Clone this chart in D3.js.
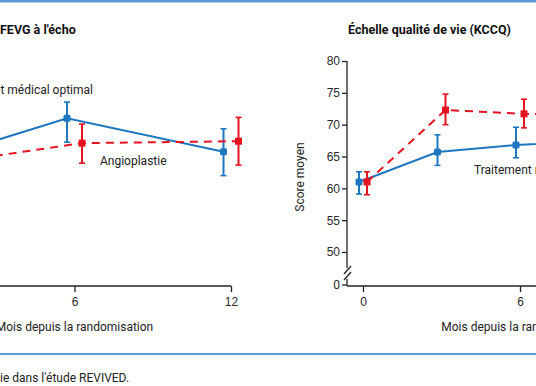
<!DOCTYPE html>
<html>
<head>
<meta charset="utf-8">
<script src="https://cdn.jsdelivr.net/npm/d3@7"></script>
<style>
  html, body { margin: 0; padding: 0; background: #fff; }
  svg { display: block; font-family: Roboto, "DejaVu Sans", sans-serif; }
  .tick text { fill: #2a2a2a; font-size: 12px; }
  .tick line, .axis-line { stroke: #222; stroke-width: 1.3; }
</style>
</head>
<body>
<svg id="chart" width="536" height="386"></svg>
<script>
// data
const fevgMonths = [0, 6, 12];
const fevgOmt = [28.9, 34.0, 30.5];
const fevgOmtLow = [27.0, 31.5, 28.0];
const fevgOmtHigh = [30.8, 35.7, 32.9];
const fevgPci = [29.0, 31.4, 31.6];
const fevgPciLow = [27.2, 29.3, 29.1];
const fevgPciHigh = [30.8, 33.4, 34.1];

const kccqMonths = [0, 3, 6, 12];
const kccqOmt = [61.0, 65.7, 66.8, 68.0];
const kccqOmtLow = [59.1, 63.6, 64.8, 65.8];
const kccqOmtHigh = [62.6, 68.4, 69.6, 70.2];
const kccqPci = [61.0, 72.3, 71.7, 71.5];
const kccqPciLow = [59.0, 70.0, 69.5, 69.2];
const kccqPciHigh = [62.6, 74.8, 74.0, 73.8];

const xTicks = [0, 6, 12];
const kccqTicks = [50, 55, 60, 65, 70, 75, 80];

const blue = "#1f77c0";
const red = "#e3131f";

const svg = d3.select("#chart");

// blue rules top and bottom
svg.append("rect").attr("x", 0).attr("y", 0).attr("width", 536).attr("height", 2.5).attr("fill", "#5e9bd6");
svg.append("rect").attr("x", 0).attr("y", 353).attr("width", 536).attr("height", 2).attr("fill", "#5e9bd6");

/** draws one panel
 * cfg: x scale, y scale, axis x position, offsets for the two series, data */
function panel(cfg) {
  const g = svg.append("g");
  const x = cfg.x, y = cfg.y;
  const xAxisY = 286;

  if (cfg.yTicks) {
    // y axis with break
    g.append("line").attr("class", "axis-line")
      .attr("x1", cfg.axisX).attr("x2", cfg.axisX).attr("y1", 61).attr("y2", 268);
    g.append("line").attr("class", "axis-line")
      .attr("x1", cfg.axisX).attr("x2", cfg.axisX).attr("y1", 279).attr("y2", xAxisY);
    [0, 6].forEach(d => {
      g.append("line").attr("class", "axis-line")
        .attr("x1", cfg.axisX - 3).attr("x2", cfg.axisX + 4)
        .attr("y1", 274 + d).attr("y2", 266 + d);
    });
    const yAxis = g.append("g")
      .attr("transform", "translate(" + cfg.axisX + ",0)")
      .call(d3.axisLeft(y).tickValues(cfg.yTicks).tickSize(5).tickPadding(2));
    yAxis.select(".domain").remove();
    // zero tick under the break
    g.append("line").attr("class", "axis-line")
      .attr("x1", cfg.axisX - 5).attr("x2", cfg.axisX).attr("y1", xAxisY - 1).attr("y2", xAxisY - 1);
    g.append("text").attr("x", cfg.axisX - 7).attr("y", xAxisY + 3)
      .attr("text-anchor", "end").attr("font-size", 12).attr("fill", "#2a2a2a").text("0");

    g.append("text")
      .attr("transform", "translate(" + (cfg.axisX - 43) + ",177) rotate(-90)")
      .attr("text-anchor", "middle").attr("font-size", 12).attr("fill", "#222")
      .text(cfg.yTitle);
  }

  // x axis
  g.append("line").attr("class", "axis-line")
    .attr("x1", Math.max(cfg.axisX, -5)).attr("x2", x(12)).attr("y1", xAxisY).attr("y2", xAxisY);
  const xAxis = g.append("g")
    .attr("transform", "translate(0," + xAxisY + ")")
    .call(d3.axisBottom(x).tickValues(xTicks).tickSize(6).tickPadding(5));
  xAxis.select(".domain").remove();

  g.append("text")
    .attr("x", (x(0) + x(12)) / 2).attr("y", 331)
    .attr("text-anchor", "middle").attr("font-size", 12).attr("fill", "#222")
    .text("Mois depuis la randomisation");

  g.append("text")
    .attr("x", cfg.titleX).attr("y", 34)
    .attr("font-size", 12.5).attr("font-weight", "bold").attr("fill", "#111")
    .text(cfg.title);

  const series = [
    { months: cfg.months, mean: cfg.omt, low: cfg.omtLow, high: cfg.omtHigh, color: blue, dx: -cfg.offset, dash: null, round: true },
    { months: cfg.months, mean: cfg.pci, low: cfg.pciLow, high: cfg.pciHigh, color: red, dx: cfg.offset, dash: "8,6", round: false }
  ];

  series.forEach(s => {
    const pts = s.months.map((m, i) => ({ x: x(m) + s.dx, y: y(s.mean[i]), lo: y(s.low[i]), hi: y(s.high[i]) }));
    const line = d3.line().x(d => d.x).y(d => d.y);
    g.append("path").attr("d", line(pts))
      .attr("fill", "none").attr("stroke", s.color).attr("stroke-width", 2)
      .attr("stroke-dasharray", s.dash);

    const eb = g.selectAll(null).data(pts).enter().append("g");
    eb.append("line").attr("x1", d => d.x).attr("x2", d => d.x)
      .attr("y1", d => d.lo).attr("y2", d => d.hi)
      .attr("stroke", s.color).attr("stroke-width", 2);
    eb.append("line").attr("x1", d => d.x - 3).attr("x2", d => d.x + 3)
      .attr("y1", d => d.lo).attr("y2", d => d.lo)
      .attr("stroke", s.color).attr("stroke-width", 1.6);
    eb.append("line").attr("x1", d => d.x - 3).attr("x2", d => d.x + 3)
      .attr("y1", d => d.hi).attr("y2", d => d.hi)
      .attr("stroke", s.color).attr("stroke-width", 1.6);
    eb.append("rect").attr("x", d => d.x - 3.5).attr("y", d => d.y - 3.5)
      .attr("width", 7).attr("height", 7).attr("rx", s.round ? 1.5 : 0).attr("fill", s.color);
  });
  return g;
}

// left panel: its y axis lies outside the cropped view
const xLeft = d3.scaleLinear().domain([0, 12]).range([-82, 231]);
const yLeft = d3.scaleLinear().domain([20, 40]).range([252, 61]);
const left = panel({
  x: xLeft, y: yLeft, axisX: -98, offset: 7.5,
  yTicks: null, title: "FEVG à l'écho", titleX: 0,
  months: fevgMonths,
  omt: fevgOmt, omtLow: fevgOmtLow, omtHigh: fevgOmtHigh,
  pci: fevgPci, pciLow: fevgPciLow, pciHigh: fevgPciHigh
});
left.append("text").attr("x", 93).attr("y", 94).attr("text-anchor", "end")
  .attr("font-size", 12).attr("fill", "#222").text("Traitement médical optimal");
left.append("text").attr("x", 100).attr("y", 165)
  .attr("font-size", 12).attr("fill", "#222").text("Angioplastie");

const xRight = d3.scaleLinear().domain([0, 12]).range([363, 677]);
const yRight = d3.scaleLinear().domain([50, 80]).range([252, 61]);
const right = panel({
  x: xRight, y: yRight, axisX: 347, offset: 4,
  yTicks: kccqTicks, yTitle: "Score moyen", title: "Échelle qualité de vie (KCCQ)", titleX: 348,
  months: kccqMonths,
  omt: kccqOmt, omtLow: kccqOmtLow, omtHigh: kccqOmtHigh,
  pci: kccqPci, pciLow: kccqPciLow, pciHigh: kccqPciHigh
});
right.append("text").attr("x", 474).attr("y", 174)
  .attr("font-size", 12).attr("fill", "#222").text("Traitement médical optimal");

svg.append("text").attr("x", 0).attr("y", 382)
  .attr("font-size", 12).attr("fill", "#222").text("ie dans l'étude REVIVED.");
</script>
</body>
</html>
